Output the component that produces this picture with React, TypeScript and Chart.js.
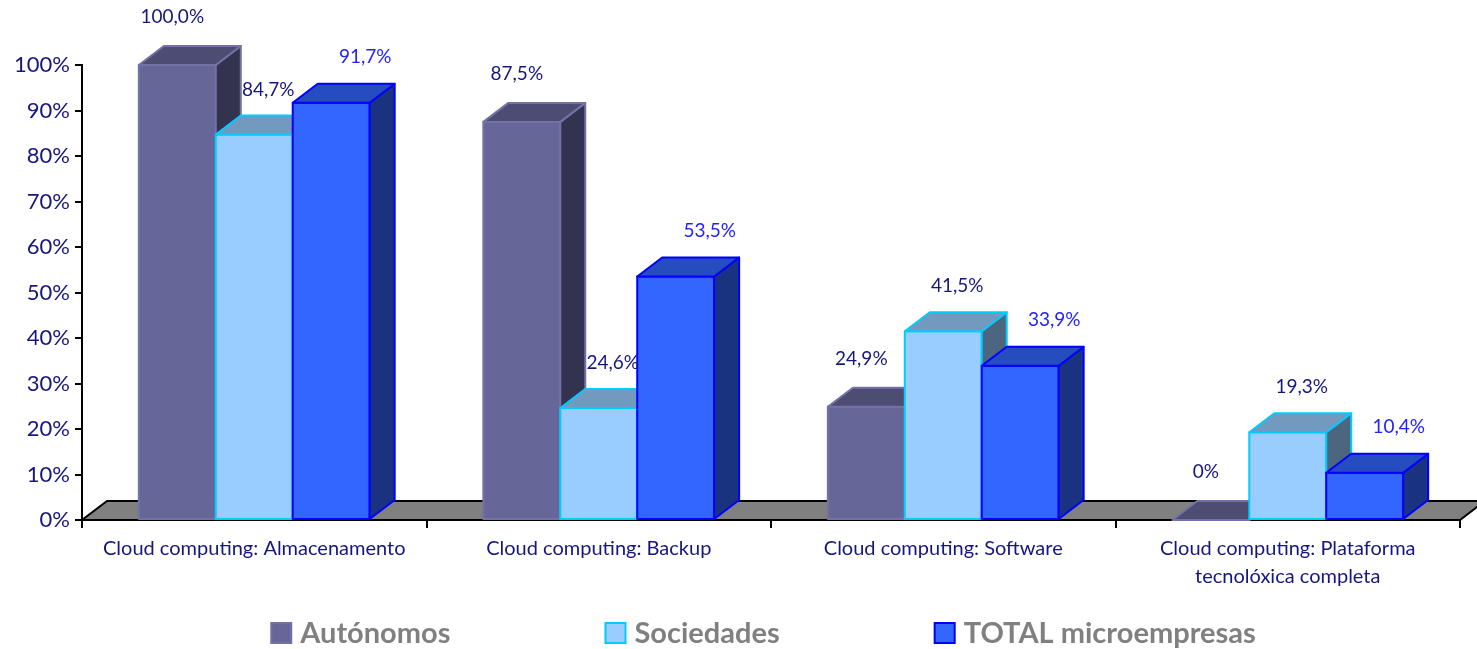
import React, { useEffect, useRef } from "react";
import { Chart, registerables } from "chart.js";

Chart.register(...registerables);

const categories: (string | string[])[] = [
  "Cloud computing: Almacenamento",
  "Cloud computing: Backup",
  "Cloud computing: Software",
  ["Cloud computing: Plataforma", "tecnolóxica completa"],
];
const seriesNames = ["Autónomos", "Sociedades", "TOTAL microempresas"];
const autonomos = [100, 87.5, 24.9, 0];
const sociedades = [84.7, 24.6, 41.5, 19.3];
const total = [91.7, 53.5, 33.9, 10.4];
const yMax = 100;
const yStep = 10;

const FONT = "Lato, 'Open Sans', sans-serif";
const NAVY = "#16167f";

const styles = [
  { face: "#666699", top: "#4d4d73", side: "#333350", border: "#7272a6", label: NAVY, lx: -5, ly: -29 },
  { face: "#99ccff", top: "#7399bf", side: "#4d6680", border: "#00ccff", label: NAVY, lx: 14, ly: -26 },
  { face: "#3366ff", top: "#264dbf", side: "#1a3380", border: "#0000ff", label: "#2323ff", lx: 34, ly: -27 },
];

const DX = 25;
const DY = 19;

function fmt(v: number) {
  if (v === 0) return "0%";
  return v.toFixed(1).replace(".", ",") + "%";
}

const bars3d = {
  id: "bars3d",
  beforeDatasetsDraw(chart: any) {
    const ctx = chart.ctx;
    const area = chart.chartArea;
    const x0 = area.left;
    const x1 = area.right;
    const yb = area.bottom;
    ctx.save();
    // floor
    ctx.beginPath();
    ctx.moveTo(x0, yb);
    ctx.lineTo(x1, yb);
    ctx.lineTo(x1 + DX, yb - DY);
    ctx.lineTo(x0 + DX, yb - DY);
    ctx.closePath();
    ctx.fillStyle = "#808080";
    ctx.fill();
    ctx.strokeStyle = "#000";
    ctx.lineWidth = 2;
    ctx.stroke();

    const nCat = chart.data.labels.length;
    const nDs = chart.data.datasets.length;
    for (let j = 0; j < nCat; j++) {
      for (let i = 0; i < nDs; i++) {
        const meta = chart.getDatasetMeta(i);
        const bar = meta.data[j];
        const st = styles[i];
        const w = bar.width;
        const l = bar.x - w / 2;
        const r = bar.x + w / 2;
        const t = bar.y;
        const b = bar.base;
        ctx.lineWidth = 2;
        ctx.lineJoin = "round";
        ctx.strokeStyle = st.border;
        // front
        if (b - t > 0.5) {
          ctx.fillStyle = st.face;
          ctx.fillRect(l, t, w, b - t);
          ctx.strokeRect(l, t, w, b - t);
        }
        // side
        ctx.beginPath();
        ctx.moveTo(r, b);
        ctx.lineTo(r + DX, b - DY);
        ctx.lineTo(r + DX, t - DY);
        ctx.lineTo(r, t);
        ctx.closePath();
        ctx.fillStyle = st.side;
        ctx.fill();
        ctx.stroke();
        // top
        ctx.beginPath();
        ctx.moveTo(l, t);
        ctx.lineTo(r, t);
        ctx.lineTo(r + DX, t - DY);
        ctx.lineTo(l + DX, t - DY);
        ctx.closePath();
        ctx.fillStyle = st.top;
        ctx.fill();
        ctx.stroke();
      }
    }
    // labels
    ctx.font = `19px ${FONT}`;
    ctx.textAlign = "center";
    ctx.textBaseline = "middle";
    for (let i = 0; i < nDs; i++) {
      const meta = chart.getDatasetMeta(i);
      const data = chart.data.datasets[i].data;
      const st = styles[i];
      meta.data.forEach((bar: any, j: number) => {
        ctx.fillStyle = st.label;
        ctx.fillText(fmt(data[j]), bar.x + st.lx, bar.y - DY + st.ly);
      });
    }
    ctx.restore();
    return false;
  },
  afterDraw(chart: any) {
    const ctx = chart.ctx;
    ctx.save();
    ctx.font = `bold 29px ${FONT}`;
    ctx.textBaseline = "middle";
    ctx.textAlign = "left";
    const box = 22;
    const gapText = 8;
    const gapItem = 154;
    const ds = chart.data.datasets;
    const widths = ds.map((d: any) => box + gapText + ctx.measureText(d.label).width);
    const totalW = widths.reduce((a: number, b: number) => a + b, 0) + gapItem * (ds.length - 1);
    let x = 763 - totalW / 2;
    const yc = 633;
    ds.forEach((d: any, i: number) => {
      const st = styles[i];
      ctx.fillStyle = st.face;
      ctx.fillRect(x + 1, yc - box / 2 + 1, box - 2, box - 2);
      ctx.strokeStyle = st.border;
      ctx.lineWidth = 2;
      ctx.strokeRect(x + 1, yc - box / 2 + 1, box - 2, box - 2);
      ctx.fillStyle = "#808080";
      ctx.fillText(d.label, x + box + gapText, yc + 1);
      x += widths[i] + gapItem;
    });
    ctx.restore();
  },
};

export default function App() {
  const ref = useRef<HTMLCanvasElement>(null);
  useEffect(() => {
    if (!ref.current) return;
    const series = [autonomos, sociedades, total];
    const chart = new Chart(ref.current, {
      type: "bar",
      data: {
        labels: categories,
        datasets: series.map((s, i) => ({
          label: seriesNames[i],
          data: s,
          backgroundColor: styles[i].face,
          borderColor: styles[i].border,
        })),
      },
      options: {
        animation: false,
        responsive: true,
        maintainAspectRatio: false,
        layout: { padding: { top: 65, right: 17, left: 0, bottom: 0 } },
        datasets: { bar: { categoryPercentage: 0.67, barPercentage: 1 } },
        plugins: { legend: { display: false }, tooltip: { enabled: false } },
        scales: {
          x: {
            offset: true,
            grid: {
              offset: true,
              drawOnChartArea: false,
              color: "#000",
              lineWidth: 2,
              tickLength: 8,
            },
            border: { display: true, color: "#000", width: 2 },
            ticks: {
              color: NAVY,
              font: { family: FONT, size: 20, lineHeight: 1.4 },
              padding: 7,
              maxRotation: 0,
              autoSkip: false,
            },
            afterFit: (s: any) => {
              s.height = 129;
            },
          },
          y: {
            min: 0,
            max: yMax,
            grid: {
              drawOnChartArea: false,
              color: "#000",
              lineWidth: 2,
              tickLength: 7,
            },
            border: { display: true, color: "#000", width: 2 },
            ticks: {
              stepSize: yStep,
              color: NAVY,
              font: { family: FONT, size: 22 },
              padding: 5,
              callback: (v: any) => v + "%",
            },
            afterFit: (s: any) => {
              s.width = 82;
            },
          },
        },
      },
      plugins: [bars3d],
    });
    return () => chart.destroy();
  }, []);
  return (
    <div style={{ position: "absolute", left: 0, top: 0, width: 1477, height: 649, background: "#fff" }}>
      <canvas ref={ref} />
    </div>
  );
}
